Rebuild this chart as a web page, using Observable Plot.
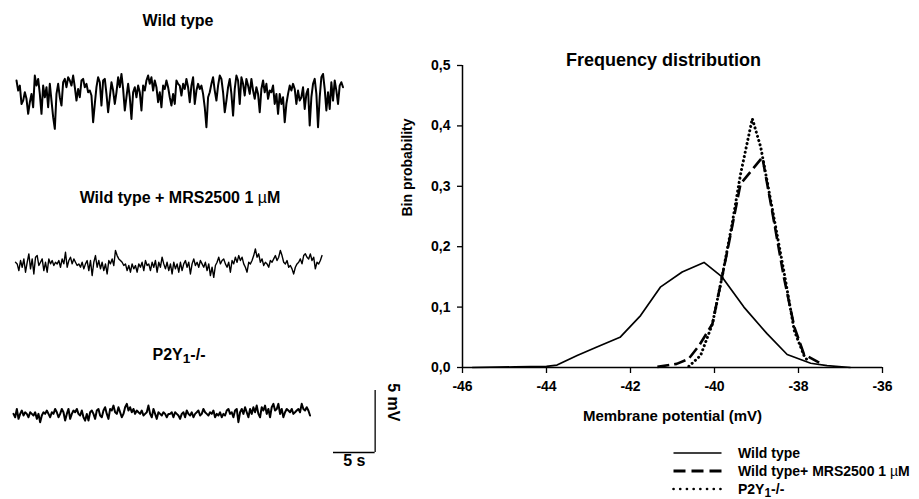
<!DOCTYPE html>
<html><head><meta charset="utf-8">
<script src="https://cdn.jsdelivr.net/npm/d3@7"></script>
<script src="https://cdn.jsdelivr.net/npm/@observablehq/plot@0.6"></script>
<style>
body{margin:0;background:#fff;}
#fig{position:relative;width:919px;height:499px;overflow:hidden;font-family:"Liberation Sans",Arial,sans-serif;font-weight:bold;color:#000;}
.lbl{position:absolute;white-space:nowrap;line-height:1;transform:translate(-50%,-50%);font-size:16px;}
.mu{font-weight:normal;}
.sub{font-size:0.85em;position:relative;top:0.25em;}
.leg{position:absolute;white-space:nowrap;line-height:1;font-size:14px;display:flex;align-items:center;}
.leg svg{margin-right:15px;}
</style></head><body><div id="fig"></div>
<script>
// ---- Recordings (membrane potential deviation, mV), sampled every sampleInterval s ----
const sampleInterval = 0.2;
const wildTypeTrace = [
1.08,0.27,0.67,-0.81,-0.54,0.13,-0.40,-1.61,-0.67,0,
-1.08,1.48,0.67,1.21,0,-1.61,0.67,-0.27,0.54,-1.08,
0.81,-0.54,-1.88,-2.82,0,0.81,-0.27,-0.94,0.94,1.21,
0.54,1.34,1.08,0.67,1.48,0.54,-0.54,0.40,-0.27,1.08,
1.21,0.54,0.81,0.13,0.27,-0.13,-2.28,-0.81,0.54,1.34,
0.94,-0.94,1.08,1.21,0,-1.48,-0.27,0.94,0.27,-0.81,
0.13,1.34,0.54,1.61,0.40,-1.34,-0.27,0.81,-0.27,-2.02,
0.13,0.54,-0.27,0.67,0.13,-1.34,0.67,0.27,1.08,1.48,
0.81,1.34,0.27,1.08,0.54,-0.67,0.13,-1.08,0.67,0.40,
1.08,0.54,-0.27,-0.94,0,-0.81,1.08,0.81,
0.67,-0.13,0.81,0.40,1.21,0.54,-0.67,0.67,1.34,-0.81,
0.27,0.81,0.40,0.67,0,-1.08,-2.69,-0.27,0.13,0.81,
1.34,0.27,-0.54,0.67,1.48,1.21,0.13,-1.48,-0.54,0.54,
1.21,0,-1.75,0.40,1.48,1.08,-0.81,1.34,0.81,-0.13,
1.21,0.67,0,1.21,0.27,-0.40,0.54,0,-1.48,0.40,
1.08,0.13,0.81,-0.40,0.27,0.13,0.67,-0.81,0,-1.61,
0,-0.81,-0.27,-2.28,-0.81,0,0.67,0.27,0.81,0.40,
-0.81,0.27,-0.54,-0.27,0.54,-1.21,0,0.40,-2.55,-0.27,
0.81,1.21,0,-2.69,-0.27,1.34,1.61,0.40,-1.34,0.13,
-1.21,0.94,-0.54,1.08,0.27,-0.81,0.67,0.94,0.54
];
const mrsTrace = [
0.13,0,-0.54,0.27,-0.27,0.40,-0.67,0.13,0.81,-0.40,
0.40,-0.81,0.54,0.67,-0.13,0.13,0.40,-0.54,0.13,-0.67,
0.40,0,0.27,-0.13,0.13,0,0.27,-0.27,0.40,0,
0.94,-0.27,0.27,0.54,0,0.40,0.13,-0.13,0,-0.27,
0.13,-0.40,0,0.27,-0.54,0.27,-0.94,0.13,0.67,-0.27,
0.27,-0.40,0.13,-0.54,0,-0.81,0.27,0,0.40,-0.13,
1.08,0.67,0.40,0.27,0.13,-0.13,0,-0.54,-0.13,-0.67,
0,-0.40,-0.13,-0.67,0,-0.27,0.13,-0.54,0.27,-0.13,
0,-0.54,0.13,-0.27,0.27,-0.67,0.13,-0.27,0.54,0,
-0.40,0.13,-0.54,0,-0.81,0.13,-0.40,0,-0.67,
0.13,-0.54,0,0.27,-0.27,0.13,-0.81,0,0.40,-0.13,
0.13,-0.27,0.27,0,-0.27,0.13,-0.54,0,-0.94,-0.27,
-1.08,-0.13,0.13,0.54,0,0.27,0.40,0,-0.27,0.13,
-0.67,0.27,0,0.54,0.13,0.67,0.27,0.54,0,-0.27,
-0.67,0.13,0,0.27,0.67,1.21,0.54,0.81,0.13,0.40,
-0.13,0.13,0,-0.27,0.27,0.13,0.40,0.67,0.27,0.54,
1.08,0.67,0.13,0,0.27,-0.27,-0.13,-0.40,-0.81,-0.27,
0,0.13,0.40,0,0.67,0.81,0.54,0.40,0.81,0.27,
0.54,-0.40,0.13,0,0.27,0.67
];
const p2y1Trace = [
0,-0.27,0.40,-0.40,0,0.27,-0.13,0.13,0,-0.27,
0.13,0,-0.13,0.13,-0.40,0,-0.67,-0.13,0.13,0,
0.27,0,-0.27,0.13,0,0.40,0.13,-0.27,0,0.40,
0.13,-0.54,0,0.40,-0.40,0,0.27,0.13,0.40,0,
-0.13,0.27,-0.27,-0.54,0,-0.54,0.13,0.27,0,-0.40,
0.27,0.40,-0.13,-0.27,0.27,0.54,0,-0.40,0.40,0.27,
0.67,0.13,0,0.54,0.13,-0.27,0,0.54,0.81,0.27,
0.54,0.13,0.40,0,0.27,0.13,0,0.27,-0.13,0,
0.13,0.67,0,-0.27,0.40,0,-0.40,0.13,0,-0.13,
0.13,0,-0.27,0,
0,0.13,-0.27,0.13,0,-0.13,-0.40,0,0.13,-0.27,
0.27,0,-0.13,0.13,-0.27,0,0.13,0.27,-0.13,0,
0.40,0.13,0,-0.13,0.13,0,0.27,-0.27,0,-0.13,
0.13,-0.27,0,-0.13,0.27,0.40,0,0.13,-0.27,0.27,
0.40,-0.67,0.13,0.40,0,0.54,0.13,-0.27,0.40,0,
0.54,0.13,0.67,0,-0.27,0.54,0.27,0.67,0,0.40,
-0.27,0.54,0.81,0.27,0.40,0.81,0,0.40,-0.27,0.13,
0.40,0.27,0.13,0.40,0,0.13,0.27,0.40,0.13,0.81,
0.40,0.27,0.54,0.27,-0.13
];
const scaleBarSeconds = 5;
const scaleBarMillivolts = 5;

// ---- Frequency distribution ----
const wtPotential  = [-45.77,-44.75,-44.0,-43.75,-43.27,-42.8,-42.25,-41.76,-41.29,-40.77,-40.25,-39.82,-39.3,-38.75,-38.27,-37.71,-37.32,-36.76];
const wtProb       = [0,0.001,0.002,0.004,0.02,0.034,0.05,0.086,0.133,0.158,0.174,0.15,0.10,0.056,0.0215,0.007,0.003,0];
const mrsPotential = [-41.36,-40.9,-40.62,-40.37,-40.05,-39.82,-39.66,-39.38,-38.86,-38.63,-38.35,-38.1,-37.87,-37.45];
const mrsProb      = [0.001,0.006,0.014,0.036,0.072,0.15,0.205,0.304,0.348,0.26,0.15,0.067,0.022,0.006];
const p2yPotential = [-40.61,-40.33,-40.05,-39.82,-39.58,-39.38,-39.1,-38.9,-38.63,-38.35,-38.1,-37.87,-37.79];
const p2yProb      = [0.002,0.02,0.072,0.15,0.238,0.32,0.412,0.365,0.265,0.16,0.061,0.02,0.012];
const xTicks = [-46,-44,-42,-40,-38,-36];
const yTicks = [0,0.1,0.2,0.3,0.4,0.5];

// ---- Layout ----
const fig = document.getElementById("fig");
const pxPerSec = 8.33, pxPerMV = 12.4;
const font = '"Liberation Sans", Arial, sans-serif';

function place(el, left, top) {
  el.style.position = "absolute";
  el.style.left = left + "px";
  el.style.top = top + "px";
  fig.appendChild(el);
}

function tracePlot(values, strokeWidth, left, centerY) {
  const data = values.map((v, i) => ({t: i * sampleInterval, v}));
  const T = (values.length - 1) * sampleInterval;
  const half = 3.5;
  const svg = Plot.plot({
    width: T * pxPerSec, height: 2 * half * pxPerMV, margin: 0,
    x: {domain: [0, T], axis: null},
    y: {domain: [-half, half], axis: null},
    style: {background: "transparent", overflow: "visible"},
    marks: [Plot.line(data, {x: "t", y: "v", stroke: "black", strokeWidth})]
  });
  place(svg, left, centerY - half * pxPerMV);
}
tracePlot(wildTypeTrace, 2, 16, 93.3);
tracePlot(mrsTrace, 1.4, 15, 263.3);
tracePlot(p2y1Trace, 2, 13.3, 413.3);

// scale bar
{
  const mL = 10, mR = 40, mT = 10, mB = 30;
  const svg = Plot.plot({
    width: mL + mR + scaleBarSeconds * pxPerSec,
    height: mT + mB + scaleBarMillivolts * pxPerMV,
    marginLeft: mL, marginRight: mR, marginTop: mT, marginBottom: mB,
    x: {domain: [0, scaleBarSeconds], axis: null},
    y: {domain: [0, scaleBarMillivolts], axis: null},
    style: {background: "transparent", overflow: "visible", fontFamily: font, fontSize: "16px", fontWeight: "bold"},
    marks: [
      Plot.ruleY([0], {x1: 0, x2: scaleBarSeconds, stroke: "black", strokeWidth: 1.3}),
      Plot.ruleX([scaleBarSeconds], {y1: 0, y2: scaleBarMillivolts, stroke: "black", strokeWidth: 1.3}),
      Plot.text([`${scaleBarSeconds} s`], {text: d => d, frameAnchor: "bottom", dy: 14}),
      Plot.text([`${scaleBarMillivolts} mV`], {text: d => d, frameAnchor: "right", dx: 18, rotate: 90})
    ]
  });
  place(svg, 332.7 - mL, 451.7 - scaleBarMillivolts * pxPerMV - mT);
}

// trace labels
function label(html, x, y) {
  const d = document.createElement("div");
  d.className = "lbl";
  d.innerHTML = html;
  d.style.left = x + "px";
  d.style.top = y + "px";
  fig.appendChild(d);
}
label("Wild type", 178, 21);
label('Wild type + MRS2500 1 <span class="mu">\u00b5</span>M', 180, 198);
label('P2Y<span class="sub">1</span>-/-', 179, 355);

// frequency distribution chart
{
  const series = [
    {x: wtPotential, y: wtProb, dash: null, w: 1.7, cap: "butt"},
    {x: mrsPotential, y: mrsProb, dash: "12,5", w: 2.6, cap: "butt"},
    {x: p2yPotential, y: p2yProb, dash: "0.1,4.3", w: 3, cap: "round"}
  ];
  const fmt = d => d.toFixed(1).replace(".", ",");
  const svg = Plot.plot({
    width: 540, height: 410,
    marginLeft: 92, marginRight: 28, marginTop: 35, marginBottom: 73,
    x: {domain: [-46, -36], axis: null},
    y: {domain: [0, 0.5], axis: null},
    style: {background: "transparent", overflow: "visible", fontFamily: font, fontSize: "14px", fontWeight: "bold", color: "black"},
    marks: [
      ...series.map(s => Plot.line(s.x.map((v, i) => ({mv: v, p: s.y[i]})), {
        x: "mv", y: "p", stroke: "black", strokeWidth: s.w,
        strokeDasharray: s.dash, strokeLinecap: s.cap
      })),
      Plot.axisX(xTicks, {tickSize: 6, tickPadding: 8, tickFormat: d => String(d), label: null, strokeWidth: 1.3}),
      Plot.axisY(yTicks, {tickSize: 5, tickPadding: 7, tickFormat: fmt, label: null, strokeWidth: 1.3}),
      Plot.ruleX([-46], {stroke: "black", strokeWidth: 1.5}),
      Plot.ruleY([0], {stroke: "black", strokeWidth: 1.5}),
      Plot.text(["Frequency distribution"], {text: d => d, frameAnchor: "top", dy: -12, dx: -9, fontSize: 18}),
      Plot.text(["Bin probability"], {text: d => d, frameAnchor: "left", dx: -55, rotate: -90}),
      Plot.text(["Membrane potential (mV)"], {text: d => d, frameAnchor: "bottom", dy: 53, fontSize: 15})
    ]
  });
  place(svg, 370, 30);
}

// legend
{
  const rows = [
    {html: "Wild type", dash: null, w: 1.7, cap: "butt", y: 453},
    {html: 'Wild type+ MRS2500 1 <span class="mu">\u00b5</span>M', dash: "12,6", w: 2.8, cap: "butt", y: 471},
    {html: 'P2Y<span class="sub">1</span>-/-', dash: "0.1,6.6", w: 2.6, cap: "round", y: 489}
  ];
  for (const r of rows) {
    const d = document.createElement("div");
    d.className = "leg";
    d.style.left = "672px";
    d.style.top = (r.y - 8) + "px";
    d.style.height = "16px";
    d.innerHTML = `<svg width="51" height="16"><line x1="1.5" y1="8" x2="49.5" y2="8" stroke="black" stroke-width="${r.w}" ${r.dash ? `stroke-dasharray="${r.dash}"` : ""} stroke-linecap="${r.cap}"/></svg><span>${r.html}</span>`;
    fig.appendChild(d);
  }
}
</script></body></html>
